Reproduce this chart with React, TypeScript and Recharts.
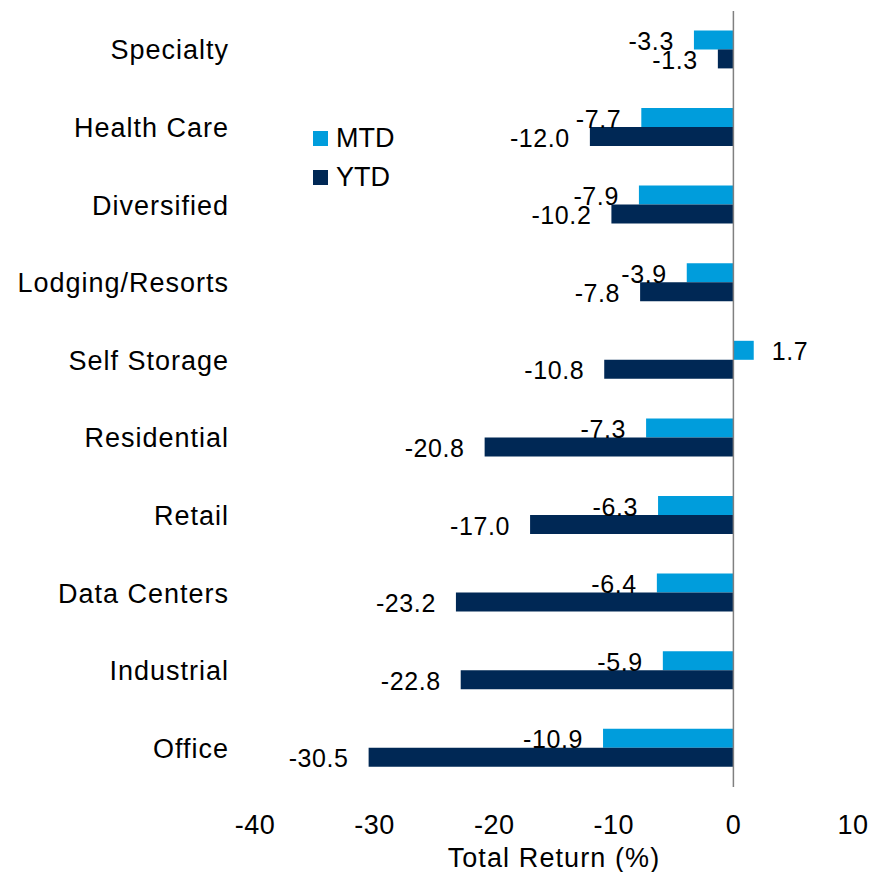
import { BarChart, Bar, XAxis, YAxis, ReferenceLine, LabelList, Label } from 'recharts'

document.body.style.margin = '0'

const categories = ['Specialty', 'Health Care', 'Diversified', 'Lodging/Resorts', 'Self Storage', 'Residential', 'Retail', 'Data Centers', 'Industrial', 'Office']
const mtd = [-3.3, -7.7, -7.9, -3.9, 1.7, -7.3, -6.3, -6.4, -5.9, -10.9]
const ytd = [-1.3, -12.0, -10.2, -7.8, -10.8, -20.8, -17.0, -23.2, -22.8, -30.5]
const xTicks = [-40, -30, -20, -10, 0, 10]

const MTD_COLOR = '#009DDC'
const YTD_COLOR = '#002855'
const FONT = '"Liberation Sans", Arial, sans-serif'

const data = categories.map((name, i) => ({ name, mtd: mtd[i], ytd: ytd[i] }))

// value label: outside the end of the bar, left for negatives
const ValueLabel = (props: any) => {
  const { x, y, width, height, value } = props
  const left = Math.min(x, x + width)
  const right = Math.max(x, x + width)
  const neg = value < 0
  return (
    <text
      x={neg ? left - 20 : right + 18}
      y={y + height / 2 + 1}
      textAnchor={neg ? 'end' : 'start'}
      dominantBaseline="central"
      fontSize={25}
      fontFamily={FONT}
      fill="#000"
      style={{ letterSpacing: 0.6 }}
    >
      {value.toFixed(1)}
    </text>
  )
}

const legendItems = [['MTD', MTD_COLOR], ['YTD', YTD_COLOR]]

export default function App() {
  return (
    <div style={{ position: 'relative', width: 873, height: 872 }}>
      <BarChart
        width={873}
        height={872}
        data={data}
        layout="vertical"
        margin={{ top: 11, right: 20, bottom: 0, left: 0 }}
        barGap={0}
        barCategoryGap="25%"
      >
        <XAxis
          type="number"
          domain={[-40, 10]}
          ticks={xTicks}
          height={85}
          axisLine={false}
          tickLine={false}
          tickSize={0}
          tickMargin={28}
          tick={{ fontSize: 27, fontFamily: FONT, fill: '#000', style: { letterSpacing: 0.5 } }}
        >
          <Label value="Total Return (%)" position="insideBottom" offset={5} style={{ fontSize: 27, fontFamily: FONT, fill: '#000', letterSpacing: 1.1 }} />
        </XAxis>
        <YAxis
          type="category"
          dataKey="name"
          width={255}
          axisLine={false}
          tickLine={false}
          tickSize={0}
          tickMargin={26}
          tick={{ fontSize: 27, fontFamily: FONT, fill: '#000', style: { letterSpacing: 1 } }}
        />
        <Bar dataKey="mtd" name="MTD" fill={MTD_COLOR} isAnimationActive={false}>
          <LabelList dataKey="mtd" content={<ValueLabel />} />
        </Bar>
        <Bar dataKey="ytd" name="YTD" fill={YTD_COLOR} isAnimationActive={false}>
          <LabelList dataKey="ytd" content={<ValueLabel />} />
        </Bar>
        <ReferenceLine x={0} stroke="#808080" strokeWidth={1.5} />
      </BarChart>
      <div style={{ position: 'absolute', left: 313, top: 119, fontFamily: FONT, fontSize: 27, color: '#000' }}>
        {legendItems.map(([label, color]) => (
          <div key={label} style={{ display: 'flex', alignItems: 'center', height: 39 }}>
            <span style={{ width: 15, height: 15, background: color, display: 'inline-block', marginRight: 8 }} />
            <span>{label}</span>
          </div>
        ))}
      </div>
    </div>
  )
}
